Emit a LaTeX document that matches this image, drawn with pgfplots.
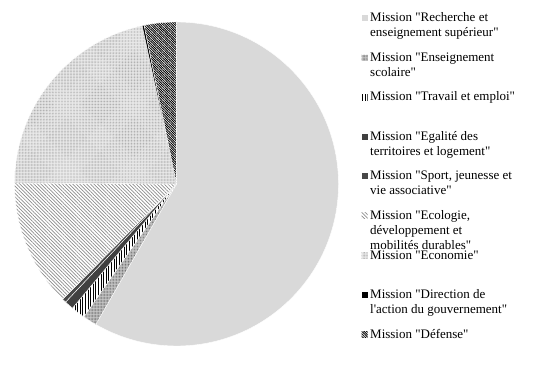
\documentclass[border=0pt]{standalone}
\usepackage{pgfplots}
\pgfplotsset{compat=1.18}
\usepackage{pgfplotstable}
\usepackage{fontspec}
\setmainfont{Liberation Serif}[Ligatures=TeXOff]
\usetikzlibrary{patterns,patterns.meta}

\pgfplotstableread{
id value
0 58.3
1 1.4
2 1.4
3 0.9
4 0.4
5 12.7
6 21.5
7 0.2
8 3.2
}\piedata

\tikzset{
  s0/.style={fill={rgb,255:red,217;green,217;blue,217}},
  s1/.style={preaction={fill={rgb,255:red,200;green,200;blue,200}},pattern={Dots[distance=1.5pt,radius=0.45pt]},pattern color=black!60},
  s2/.style={pattern={Lines[angle=90,distance=2.6pt,line width=0.9pt]},pattern color=black},
  s3/.style={fill={rgb,255:red,64;green,64;blue,64}},
  s4/.style={fill={rgb,255:red,72;green,72;blue,72}},
  s5/.style={pattern={Lines[angle=-45,distance=2.5pt,line width=0.7pt]},pattern color=black!45},
  s6/.style={preaction={fill={rgb,255:red,236;green,236;blue,236}},pattern={Dots[distance=1.5pt,radius=0.45pt]},pattern color=black!35},
  s7/.style={fill=black},
  s8/.style={preaction={fill=white},pattern={Lines[angle=-45,distance=1.7pt,line width=0.9pt]},pattern color=black},
  legtext/.style={anchor=base west,inner sep=0pt,font=\fontsize{13bp}{15bp}\selectfont},
}
\newcommand\legline[3]{\node[legtext] at (370bp,{350.5bp-39.6bp*#1-15bp*#2}) {#3};}
\newcommand\legmark[1]{\fill[s#1] (361.5bp,{351bp-39.6bp*#1}) rectangle ++(6bp,6bp);}

\begin{document}
\begin{tikzpicture}
\path[use as bounding box] (0,0) rectangle (546bp,372bp);
\begin{axis}[at={(176.5bp,188bp)},anchor=center,hide axis,scale only axis,
  x=1bp,y=1bp,xmin=-165,xmax=165,ymin=-165,ymax=165,clip=false]
\pgfplotsextra{
  \gdef\curang{90}
  \foreach \i in {0,...,8}{
    \pgfplotstablegetelem{\i}{value}\of\piedata
    \pgfmathsetmacro\endang{\curang-3.6*\pgfplotsretval}
    \fill[s\i,draw=white,line width=0.4pt] (axis cs:0,0) -- ++(\curang:162bp) arc[start angle=\curang,end angle=\endang,radius=162bp] -- cycle;
    \xdef\curang{\endang}
  }
}
\end{axis}
\foreach \k in {0,...,8}{\legmark{\k}}
\legline{0}{0}{Mission "Recherche et}
\legline{0}{1}{enseignement supérieur"}
\legline{1}{0}{Mission "Enseignement}
\legline{1}{1}{scolaire"}
\legline{2}{0}{Mission "Travail et emploi"}
\legline{3}{0}{Mission "Egalité des}
\legline{3}{1}{territoires et logement"}
\legline{4}{0}{Mission "Sport, jeunesse et}
\legline{4}{1}{vie associative"}
\legline{5}{0}{Mission "Ecologie,}
\legline{5}{1}{développement et}
\legline{5}{2}{mobilités durables"}
\legline{6}{0}{Mission "Economie"}
\legline{7}{0}{Mission "Direction de}
\legline{7}{1}{l'action du gouvernement"}
\legline{8}{0}{Mission "Défense"}
\end{tikzpicture}
\end{document}
